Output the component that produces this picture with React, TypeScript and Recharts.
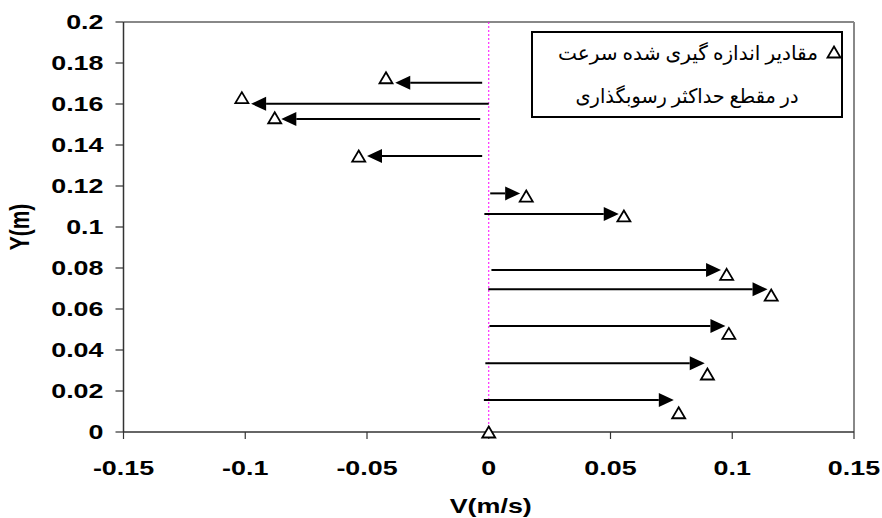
import {
  Label,
  ReferenceLine,
  Scatter,
  ScatterChart,
  XAxis,
  YAxis,
} from "recharts";

const X_TICKS = [-0.15, -0.1, -0.05, 0, 0.05, 0.1, 0.15];
const Y_TICKS = [0, 0.02, 0.04, 0.06, 0.08, 0.1, 0.12, 0.14, 0.16, 0.18, 0.2];

// Measured velocities (triangles)
const measuredV = [
  0, 0.078, 0.0898, 0.0986, 0.116, 0.0977, 0.0555, 0.0154, -0.0534, -0.0879,
  -0.1014, -0.0422,
];
const measuredY = [
  0, 0.0094, 0.0283, 0.0481, 0.0668, 0.0769, 0.1054, 0.1151, 0.1346, 0.1533,
  0.1631, 0.1728,
];

// Velocity vectors (arrows), drawn from arrowFromV to arrowToV at height arrowY
const arrowY = [
  0.0156, 0.0335, 0.0517, 0.0696, 0.079, 0.1063, 0.1164, 0.1346, 0.1527, 0.1601,
  0.1704,
];
const arrowFromV = [
  -0.002, -0.0014, 0.0003, -0.0002, 0.0011, -0.0018, 0.0006, -0.0027, -0.0035,
  0, -0.0027,
];
const arrowToV = [
  0.076, 0.0887, 0.0972, 0.1145, 0.0954, 0.0534, 0.0129, -0.05, -0.0852,
  -0.0976, -0.0384,
];

const LEGEND_LINES = [
  "مقادیر اندازه گیری شده سرعت",
  "در مقطع حداکثر رسوبگذاری",
];

const points = measuredV.map((v, i) => ({ v, y: measuredY[i] }));
const arrows = arrowY.map((y, i) => ({
  y,
  from: arrowFromV[i],
  to: arrowToV[i],
}));

const FONT = "'Liberation Sans', Arial, sans-serif";
const ARABIC_FONT = "'Times New Roman', 'DejaVu Sans', serif";
const STRETCH = 1.28;

const fmt = (v: number) => String(Number(v.toFixed(2)));

function Triangle({ cx, cy }: { cx: number; cy: number }) {
  return (
    <polygon
      points={`${cx},${cy - 5.5} ${cx + 6.5},${cy + 5.5} ${cx - 6.5},${cy + 5.5}`}
      fill="#fff"
      stroke="#000"
      strokeWidth={1.8}
    />
  );
}

function Arrow(props: any) {
  const { x1, y1, x2, y2 } = props;
  const dir = x2 >= x1 ? 1 : -1;
  const base = x2 - dir * 15;
  return (
    <g>
      <line x1={x1} y1={y1} x2={base} y2={y2} stroke="#000" strokeWidth={2} />
      <polygon
        points={`${x2},${y2} ${base},${y2 - 7} ${base},${y2 + 7}`}
        fill="#000"
      />
    </g>
  );
}

function XTick(props: any) {
  const { x, y, payload } = props;
  return (
    <text
      transform={`translate(${x},${y}) scale(${STRETCH},1)`}
      textAnchor="middle"
      dy="0.716em"
      fontFamily={FONT}
      fontWeight="bold"
      fontSize={21}
      fill="#000"
    >
      {fmt(payload.value)}
    </text>
  );
}

function YTick(props: any) {
  const { x, y, payload } = props;
  return (
    <text
      transform={`translate(${x},${y}) scale(${STRETCH},1)`}
      textAnchor="end"
      dy="0.355em"
      fontFamily={FONT}
      fontWeight="bold"
      fontSize={21}
      fill="#000"
    >
      {fmt(payload.value)}
    </text>
  );
}

// Boxed legend in the upper right corner of the plot
function LegendBox() {
  return (
    <svg
      width={314}
      height={90}
      style={{ position: "absolute", left: 530, top: 30 }}
    >
      <rect
        x={2}
        y={2}
        width={310}
        height={85}
        fill="#fff"
        stroke="#000"
        strokeWidth={2}
      />
      <Triangle cx={304} cy={22} />
      <text
        x={158}
        y={30}
        textAnchor="middle"
        direction="rtl"
        fontFamily={ARABIC_FONT}
        fontSize={20}
        textLength={260}
        lengthAdjust="spacingAndGlyphs"
        fill="#000"
      >
        {LEGEND_LINES[0]}
      </text>
      <text
        x={157}
        y={73}
        textAnchor="middle"
        direction="rtl"
        fontFamily={ARABIC_FONT}
        fontSize={20}
        textLength={223}
        lengthAdjust="spacingAndGlyphs"
        fill="#000"
      >
        {LEGEND_LINES[1]}
      </text>
    </svg>
  );
}

export default function App() {
  return (
    <div
      style={{ position: "relative", background: "#fff", width: 882, height: 518 }}
    >
      <style>{"body{margin:0}"}</style>
      <ScatterChart
        width={882}
        height={518}
        margin={{ top: 22, right: 28, bottom: 26, left: 0 }}
      >
        <XAxis
          type="number"
          dataKey="v"
          domain={[-0.15, 0.15]}
          ticks={X_TICKS}
          height={60}
          tickSize={7}
          tickMargin={21}
          tick={XTick}
          axisLine={{ stroke: "#333", strokeWidth: 1.5 }}
          tickLine={{ stroke: "#333", strokeWidth: 1.2 }}
        >
          <Label
            content={(p: any) => {
              const vb = p.viewBox;
              return (
                <text
                  transform={`translate(${vb.x + vb.width / 2 + 2},${vb.y + 81}) scale(${STRETCH},1)`}
                  textAnchor="middle"
                  fontFamily={FONT}
                  fontWeight="bold"
                  fontSize={21}
                  fill="#000"
                >
                  V(m/s)
                </text>
              );
            }}
          />
        </XAxis>
        <YAxis
          type="number"
          dataKey="y"
          domain={[0, 0.2]}
          ticks={Y_TICKS}
          width={123.5}
          tickSize={8}
          tickMargin={12}
          tick={YTick}
          axisLine={{ stroke: "#333", strokeWidth: 1.5 }}
          tickLine={{ stroke: "#333", strokeWidth: 1.2 }}
        >
          <Label
            content={(p: any) => {
              const vb = p.viewBox;
              return (
                <text
                  transform={`translate(28.5,${vb.y + vb.height / 2}) scale(${STRETCH},1) rotate(-90)`}
                  textAnchor="middle"
                  fontFamily={FONT}
                  fontWeight="bold"
                  fontSize={21}
                  fill="#000"
                >
                  Y(m)
                </text>
              );
            }}
          />
        </YAxis>

        {/* plot frame, top and right */}
        <ReferenceLine y={0.2} stroke="#888" strokeWidth={2} />
        <ReferenceLine x={0.15} stroke="#888" strokeWidth={2} />

        <ReferenceLine
          x={0}
          stroke="#ff00ff"
          strokeWidth={1}
          strokeDasharray="2 2"
        />

        {arrows.map((a, i) => (
          <ReferenceLine
            key={i}
            segment={[
              { x: a.from, y: a.y },
              { x: a.to, y: a.y },
            ]}
            shape={Arrow}
          />
        ))}

        <Scatter
          data={points}
          isAnimationActive={false}
          shape={(p: any) => <Triangle cx={p.cx} cy={p.cy} />}
        />
      </ScatterChart>
      <LegendBox />
    </div>
  );
}
